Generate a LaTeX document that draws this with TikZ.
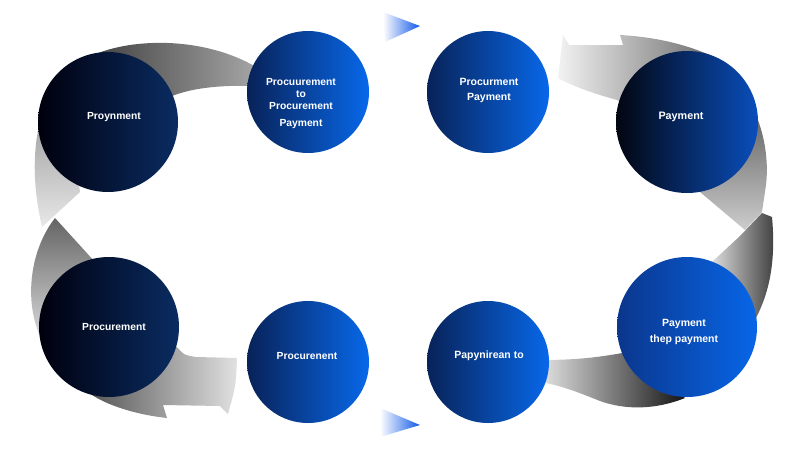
\documentclass[tikz,border=0pt]{standalone}
\usepackage{fontspec}
\setmainfont{Liberation Sans}
\begin{document}
\begin{tikzpicture}[x=1pt,y=-1pt,
  circ/.style={circle,inner sep=0pt,draw=none},
  bigdark/.style={circ,minimum size=140pt,left color=black!95!blue,right color={rgb,255:red,10;green,44;blue,98}},
  smallblue/.style={circ,minimum size=122pt,left color={rgb,255:red,8;green,34;blue,88},right color={rgb,255:red,8;green,104;blue,234}},
  paytop/.style={circ,minimum size=142pt,left color={rgb,255:red,2;green,6;blue,16},right color={rgb,255:red,10;green,78;blue,188}},
  paybot/.style={circ,minimum size=140pt,left color={rgb,255:red,10;green,54;blue,140},right color={rgb,255:red,8;green,102;blue,232}},
  lbl/.style={text=white,font=\bfseries\fontsize{10.3}{12}\selectfont,align=center,inner sep=0pt},
  band/.style={draw=none}
]
\useasboundingbox[fill=white] (0,0) rectangle (800,450);

% ---- gray swooshes (behind circles) ----
% top-left band: circle 1 -> circle 2
\shade[band,left color={rgb,255:red,60;green,60;blue,60},right color={rgb,255:red,165;green,165;blue,165}]
  (84,60) .. controls (120,38) and (200,34) .. (256,67) -- (256,86)
  .. controls (225,85) and (195,87) .. (172,96) -- (130,110) -- cycle;
% upper-left band: circle 1 -> tip
\shade[band,top color={rgb,255:red,120;green,120;blue,120},bottom color={rgb,255:red,232;green,232;blue,232}]
  (90,56) .. controls (45,75) and (22,140) .. (42,227) -- (80,192) -- (70,120) -- cycle;
% lower-left band: tip -> circle 5
\shade[band,top color={rgb,255:red,100;green,100;blue,100},bottom color={rgb,255:red,215;green,215;blue,215}]
  (55,218) -- (95,262) -- (80,330) -- (40,336)
  .. controls (24,300) and (30,250) .. (55,218) -- cycle;
% bottom-left notched tail
\shade[band,left color={rgb,255:red,85;green,85;blue,85},right color={rgb,255:red,225;green,225;blue,225}]
  (150,330) -- (178,348) .. controls (184,355) .. (196,357) -- (237,358)
  .. controls (236,385) .. (228,414) -- (220,406) -- (163,405) -- (167,418)
  .. controls (130,414) and (100,402) .. (88,392) -- cycle;
% top-right notched band: -> circle 4
\shade[band,left color={rgb,255:red,242;green,242;blue,242},right color={rgb,255:red,110;green,110;blue,110}]
  (563,35) -- (569,45) -- (623,45) -- (620,35)
  .. controls (655,37) and (685,44) .. (712,56) -- (640,112) -- (617,100)
  .. controls (595,94) and (572,86) .. (558,78) -- cycle;
% upper-right band: circle 4 -> tip
\shade[band,top color={rgb,255:red,70;green,70;blue,70},bottom color={rgb,255:red,205;green,205;blue,205}]
  (735,80) .. controls (760,110) and (770,150) .. (766,185) -- (762,212)
  -- (745,230) -- (700,192) -- (715,150) -- cycle;
% lower-right band: notch -> circle 8
\shade[band,left color={rgb,255:red,220;green,220;blue,220},right color={rgb,255:red,60;green,60;blue,60}]
  (740,236) -- (762,213) -- (772,217) .. controls (776,260) and (770,295) .. (752,325)
  -- (720,300) -- (712,262) -- cycle;
% bottom-right band: circle 7 -> circle 8
\shade[band,left color={rgb,255:red,228;green,228;blue,228},right color={rgb,255:red,20;green,20;blue,20}]
  (540,360) .. controls (580,360) and (600,357) .. (628,352) -- (685,398)
  .. controls (655,410) and (625,410) .. (600,401)
  .. controls (580,393) and (560,385) .. (540,382) -- cycle;

% ---- triangles ----
\shade[left color=white,right color={rgb,255:red,16;green,88;blue,232}]
  (383,12) -- (420,26) -- (385,42) -- cycle;
\shade[left color=white,right color={rgb,255:red,16;green,88;blue,232}]
  (380,408) -- (420,425) -- (380,437) -- cycle;

% ---- circles ----
\node[bigdark] (c1) at (108,122) {};
\node[smallblue] (c2) at (308,92) {};
\node[smallblue] (c3) at (488,92) {};
\node[paytop] (c4) at (687,122) {};
\node[bigdark] (c5) at (109,327) {};
\node[smallblue] (c6) at (308,362) {};
\node[smallblue] (c7) at (488,362) {};
\node[paybot] (c8) at (687,327) {};

% ---- labels ----
\node[lbl] (t1) at (114,117) {Proynment};
\node[lbl] (t2) at (301,103.5) {Procuurement\\to\\Procurement\\[5pt]Payment};
\node[lbl,font=\bfseries\fontsize{10.5}{15}\selectfont] (t3) at (489,90.5) {Procurment\\Payment};
\node[lbl,font=\bfseries\fontsize{10.8}{12}\selectfont] (t4) at (681,117) {Payment};
\node[lbl] (t5) at (114,327) {Procurement};
\node[lbl] (t6) at (307,356) {Procurenent};
\node[lbl,font=\bfseries\fontsize{10.5}{12}\selectfont] (t7) at (489,356) {Papynirean to};
\node[lbl,font=\bfseries\fontsize{10.5}{16}\selectfont] (t8) at (684,332) {Payment\\thep payment};
\end{tikzpicture}
\end{document}
